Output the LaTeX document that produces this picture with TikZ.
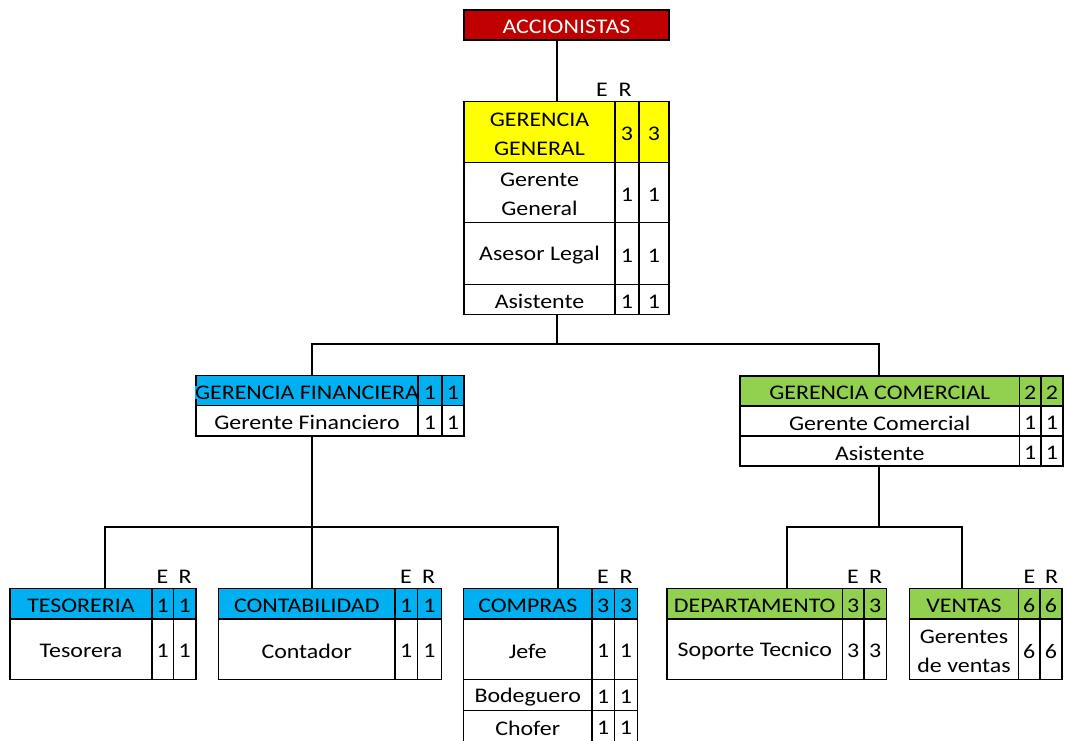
\documentclass[tikz,border=0pt]{standalone}
\usepackage{fontspec}
\setmainfont{Carlito}[FakeStretch=1.15]
\definecolor{accred}{HTML}{C00000}
\definecolor{ggyellow}{HTML}{FFFF00}
\definecolor{finblue}{HTML}{00B0F0}
\definecolor{comgreen}{HTML}{92D050}
\newcommand\cellfont{\fontsize{15.6}{22}\selectfont}
\newcommand\mkcell[7]{%
  \node[cellbox,#6,minimum width={(#4-#2)*0.75pt},minimum height={(#5-#3)*0.75pt}] (#1) at (#2,#3) {};
  \node[celltext,#6] (#1t) at ([yshift=-1.5pt]#1.center) {#7};}
\newcommand\setcols[4]{\def\cA{#1}\def\cB{#2}\def\cC{#3}\def\cD{#4}}
\newcommand\mkrow[6]{%
  \mkcell{#1}{\cA}{#2}{\cB}{#3}{#4}{#5}
  \mkcell{#1e}{\cB}{#2}{\cC}{#3}{#4}{#6}
  \mkcell{#1r}{\cC}{#2}{\cD}{#3}{#4}{#6}}
\tikzset{
  cellbox/.style={draw, line width=1pt, inner sep=0pt, outer sep=0pt,
    anchor=north west, fill=white},
  celltext/.style={inner sep=0pt, align=center, font=\cellfont, text=black, fill=none, draw=none},
  yel/.style={fill=ggyellow},
  blu/.style={fill=finblue},
  grn/.style={fill=comgreen},
  accst/.style={fill=accred, text=white},
  plain/.style={},
  lbl/.style={inner sep=0pt, font=\cellfont, text=black},
  conn/.style={line width=1pt, draw=black}
}
\begin{document}
\begin{tikzpicture}[x=0.75pt,y=-0.75pt]
\clip (0,0) rectangle (1067,740);
\fill[white] (0,0) rectangle (1067,740);
% ACCIONISTAS
\node[cellbox,fill=accred,minimum width={205*0.75pt},minimum height={30*0.75pt}] (acc) at (464,10) {};
\node[celltext,text=white] (acct) at ([yshift=-1.5pt]acc.center) {ACCIONISTAS};
% GERENCIA GENERAL
\setcols{464}{615}{639}{669}
\mkrow{gg1}{101.5}{162.5}{yel}{GERENCIA\\GENERAL}{3}
\mkrow{gg2}{162.5}{222.5}{plain}{Gerente\\General}{1}
\mkrow{gg3}{222.5}{284.5}{plain}{Asesor Legal}{1}
\mkrow{gg4}{284.5}{314.5}{plain}{Asistente}{1}
\node[lbl] (ggE) at (602,89.5) {E};
\node[lbl] (ggR) at (625,89.5) {R};
% GERENCIA FINANCIERA
\setcols{196}{418}{442}{464}
\mkrow{gf1}{375.5}{405.5}{blu}{GERENCIA FINANCIERA}{1}
\mkrow{gf2}{405.5}{436}{plain}{Gerente Financiero}{1}
% GERENCIA COMERCIAL
\setcols{740}{1019.5}{1041}{1063}
\mkrow{gc1}{376}{406}{grn}{GERENCIA COMERCIAL}{2}
\mkrow{gc2}{406}{436}{plain}{Gerente Comercial}{1}
\mkrow{gc3}{436}{466}{plain}{Asistente}{1}
% TESORERIA
\setcols{10}{152}{173.5}{196}
\mkrow{tes1}{588.5}{619}{blu}{TESORERIA}{1}
\mkrow{tes2}{619}{679.5}{plain}{Tesorera}{1}
\node[lbl] (tesE) at (162.5,577) {E};
\node[lbl] (tesR) at (185,577) {R};
% CONTABILIDAD
\setcols{218.5}{395}{417.5}{441.5}
\mkrow{con1}{588.5}{619}{blu}{CONTABILIDAD}{1}
\mkrow{con2}{619}{679.5}{plain}{Contador}{1}
\node[lbl] (conE) at (406,577) {E};
\node[lbl] (conR) at (428.5,577) {R};
% COMPRAS
\setcols{463.5}{592}{614.5}{637.5}
\mkrow{com1}{588.5}{619}{blu}{COMPRAS}{3}
\mkrow{com2}{619}{679.5}{plain}{Jefe}{1}
\mkrow{com3}{679.5}{710.5}{plain}{Bodeguero}{1}
\mkrow{com4}{710.5}{742}{plain}{Chofer}{1}
\node[lbl] (comE) at (603,577) {E};
\node[lbl] (comR) at (626,577) {R};
% DEPARTAMENTO
\setcols{667}{842.5}{864}{886.5}
\mkrow{dep1}{588.5}{619}{grn}{DEPARTAMENTO}{3}
\mkrow{dep2}{619}{679.5}{plain}{Soporte Tecnico}{3}
\node[lbl] (depE) at (853,577) {E};
\node[lbl] (depR) at (875.5,577) {R};
% VENTAS
\setcols{909.5}{1018.5}{1040}{1062}
\mkrow{ven1}{588.5}{619}{grn}{VENTAS}{6}
\mkrow{ven2}{619}{679.5}{plain}{Gerentes\\de ventas}{6}
\node[lbl] (venE) at (1029.5,577) {E};
\node[lbl] (venR) at (1051.5,577) {R};
% connectors
\coordinate (v0) at (557,0);
\coordinate (vgf) at (312,0);
\coordinate (vgc) at (879,0);
\coordinate (vt) at (105,0);
\coordinate (vcm) at (558,0);
\coordinate (vd) at (787,0);
\coordinate (vv) at (962,0);
\coordinate (bus1) at (0,344);
\coordinate (bus2) at (0,527);
\draw[conn] (acc.south -| v0) -- (gg1.north -| v0);
\draw[conn] (gg4.south -| v0) -- (v0 |- bus1);
\draw[conn] (gf1.north -| vgf) -- (vgf |- bus1) -- (vgc |- bus1) -- (gc1.north -| vgc);
\draw[conn] (gf2.south -| vgf) -- (con1.north -| vgf);
\draw[conn] (tes1.north -| vt) -- (vt |- bus2) -- (vcm |- bus2) -- (com1.north -| vcm);
\draw[conn] (gc3.south -| vgc) -- (vgc |- bus2);
\draw[conn] (dep1.north -| vd) -- (vd |- bus2) -- (vv |- bus2) -- (ven1.north -| vv);
\end{tikzpicture}
\end{document}
